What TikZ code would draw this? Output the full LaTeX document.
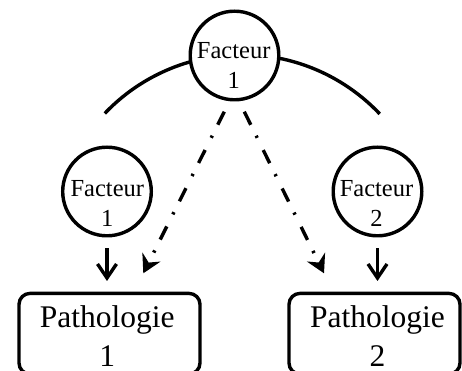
\documentclass[tikz,border=0pt]{standalone}
\usepackage{fontspec}
\setmainfont{Liberation Serif}
\usetikzlibrary{arrows.meta}
\begin{document}
\begin{tikzpicture}[x=1pt,y=1pt,
  lw/.style={line width=3.4pt},
  fcirc/.style={circle, draw, line width=3.4pt, minimum size=88.6pt, inner sep=0pt, fill=white},
  ftext/.style={inner sep=0pt, align=center, font=\fontsize{24.5}{30}\selectfont},
  ptext/.style={inner sep=0pt, align=center, font=\fontsize{31.5}{39}\selectfont},
  pbox/.style={draw, line width=3.4pt, rounded corners=11pt, inner sep=0pt},
  solidarrow/.style={line width=3.4pt, -{Straight Barb[length=14pt,width=19pt]}},
  dasharrow/.style={line width=3.4pt, dash pattern=on 14.6pt off 12.2pt on 2.4pt off 13.6pt, -{Stealth[length=18pt,width=20pt,inset=6pt]}}
]
\useasboundingbox (0,0) rectangle (462,371);
% big arc behind the top circle
\draw[lw] (104.8,257.6) arc[start angle=136.4, end angle=43.4, radius=189.5];
% circles
\node[fcirc] (c0) at (234.5,315.5) {};
\node[ftext] (t0) at (233.7,305.8) {Facteur\\1};
\node[fcirc] (c1) at (107,179.5) {};
\node[ftext] (t1) at (107.3,167.1) {Facteur\\1};
\node[fcirc] (c2) at (377.5,179.5) {};
\node[ftext] (t2) at (376.5,167.1) {Facteur\\2};
% boxes
\node[pbox, minimum width=181pt, minimum height=80.6pt] (b1) at (109.5,37.3) {};
\node[ptext] (p1) at (107.3,34.9) {Pathologie\\1};
\node[pbox, minimum width=171pt, minimum height=80.6pt] (b2) at (374.5,37.3) {};
\node[ptext] (p2) at (377.5,34.9) {Pathologie\\2};
% solid arrows
\draw[solidarrow, shorten <=10.9pt, shorten >=10.7pt] (c1.south) -- (c1.south |- b1.north);
\draw[solidarrow, shorten <=10.9pt, shorten >=10.7pt] (c2.south) -- (c2.south |- b2.north);
% dash-dot arrows
\coordinate (d1s) at (224.3,259.3);
\coordinate (d1e) at (143.3,97.7);
\coordinate (d2s) at (244.3,259.3);
\coordinate (d2e) at (324,97.7);
\draw[dasharrow] (d1s) -- (d1e);
\draw[dasharrow] (d2s) -- (d2e);
\end{tikzpicture}
\end{document}
